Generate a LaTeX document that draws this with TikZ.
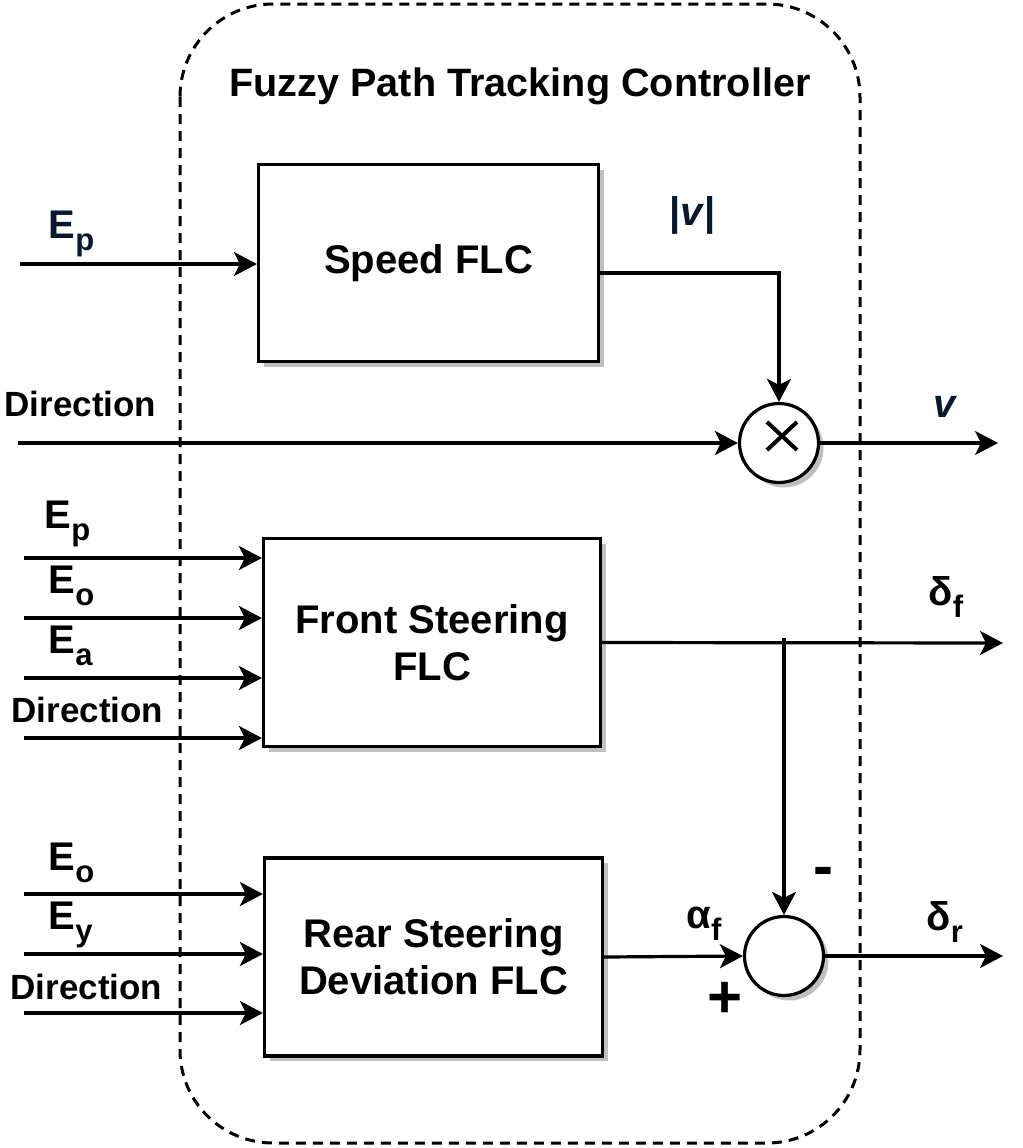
\documentclass[tikz,border=0pt]{standalone}
\usepackage{fontspec}
\setmainfont{Liberation Sans}
\usetikzlibrary{arrows.meta,shadows,calc}
\definecolor{navy}{RGB}{8,24,46}
\definecolor{shade}{RGB}{192,192,192}
\newcommand{\lsub}[1]{\raisebox{-0.32em}{\fontsize{15.5}{15.5}\selectfont #1}}
\begin{document}
\begin{tikzpicture}[x=0.5pt,y=-0.5pt,
  line width=1.6pt,
  arr/.style={-{Stealth[length=11.5pt,width=12pt,inset=3pt]}},
  shad/.style={drop shadow={shadow xshift=2.5pt,shadow yshift=-2.5pt,fill=shade,opacity=1}},
  flc/.style={draw,fill=white,inner sep=0pt,align=center,
    font=\fontsize{20}{23.5}\selectfont\bfseries,shad},
  op/.style={draw,circle,fill=white,inner sep=0pt,minimum size=39.5pt,shad},
  lbl/.style={anchor=base west,inner sep=0pt,font=\fontsize{20}{20}\selectfont\bfseries},
  dlbl/.style={anchor=base west,inner sep=0pt,font=\fontsize{17.5}{17.5}\selectfont\bfseries},
  sgn/.style={inner sep=0pt,font=\fontsize{30}{30}\selectfont\bfseries}]
\useasboundingbox (0,0) rectangle (1023,1148);

% controller frame
\draw[line width=1.5pt,dash pattern=on 5pt off 3.5pt,rounded corners=46.5pt]
  (180,4) rectangle (860,1143);
\node[anchor=base,inner sep=0pt,font=\fontsize{19.8}{19.8}\selectfont\bfseries]
  (title) at (520,96) {Fuzzy Path Tracking Controller};

% blocks
\node[flc,minimum width=170pt,minimum height=98.5pt] (speed) at (428.5,263) {Speed FLC};
\node[flc,minimum width=168.5pt,minimum height=104pt] (front) at (432,642.5) {Front Steering\\FLC};
\node[flc,minimum width=169pt,minimum height=99pt] (rear) at (433.5,957) {Rear Steering\\Deviation FLC};
\node[op] (m) at (779,443) {};
\node[op] (s) at (784,956) {};
\draw[line width=2pt] (767,422) -- (797,450) (767,450) -- (797,422);

% speed branch
\coordinate (ep0) at (20,264);
\draw[arr] (ep0) -- (ep0 -| speed.west);
\node[lbl,text=navy] (lep0) at (47,238) {E\lsub{p}};
\draw[arr] ([yshift=-5pt]speed.east) -| (m.north);
\node[lbl,text=navy] (labs) at (668,225) {|\textit{v}|};
\coordinate (dir0) at (18,443);
\draw[arr] (dir0) -- (m.west);
\node[dlbl] (ldir0) at (3,416) {Direction};
\coordinate (vout) at (998,443);
\draw[arr] (m.east) -- (vout);
\node[lbl,text=navy] (lv) at (932,417) {\textit{v}};

% front steering
\coordinate (f1) at (24,558);
\coordinate (f2) at (24,618);
\coordinate (f3) at (24,678);
\coordinate (f4) at (24,738);
\draw[arr] (f1) -- (f1 -| front.west);
\draw[arr] (f2) -- (f2 -| front.west);
\draw[arr] (f3) -- (f3 -| front.west);
\draw[arr] (f4) -- (f4 -| front.west);
\node[lbl] (lf1) at (43,528) {E\lsub{p}};
\node[lbl] (lf2) at (47,593) {E\lsub{o}};
\node[lbl] (lf3) at (47,653) {E\lsub{a}};
\node[dlbl] (lf4) at (10,722) {Direction};
\coordinate (dfout) at (1003,643);
\draw[arr] (front.east) -- (dfout);
\node[lbl] (ldf) at (927,605) {δ\lsub{f}};
\coordinate (j) at (784,638);
\draw[arr] (j) -- (s.north);

% rear steering
\coordinate (r1) at (24,894);
\coordinate (r2) at (24,954);
\coordinate (r3) at (24,1013);
\draw[arr] (r1) -- (r1 -| rear.west);
\draw[arr] (r2) -- (r2 -| rear.west);
\draw[arr] (r3) -- (r3 -| rear.west);
\node[lbl] (lr1) at (47,870) {E\lsub{o}};
\node[lbl] (lr2) at (47,929) {E\lsub{y}};
\node[dlbl] (lr3) at (9,999) {Direction};
\draw[arr] (rear.east) -- (s.west);
\node[lbl] (laf) at (685,928) {α\lsub{f}};
\coordinate (drout) at (1003,956);
\draw[arr] (s.east) -- (drout);
\node[lbl] (ldr) at (925,930) {δ\lsub{r}};
\node[sgn] (plus) at (725,1000) {+};
\node[sgn] (minus) at (823,877) {-};
\end{tikzpicture}
\end{document}
